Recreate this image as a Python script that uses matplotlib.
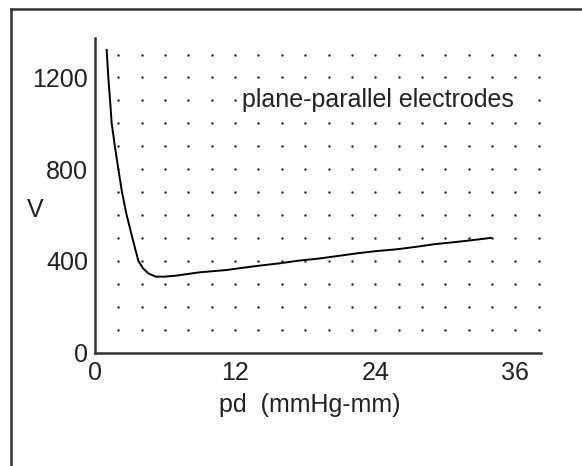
import matplotlib
matplotlib.use("Agg")
import matplotlib.pyplot as plt
from matplotlib.lines import Line2D
import numpy as np

# Paschen curve
pd_vals = [1.0, 1.14, 1.29, 1.43, 1.7, 2.0, 2.31, 2.71, 3.2, 3.71, 4.1, 4.57,
           5.2, 6.0, 6.9, 8.0, 9.0, 11.3, 12.7, 14.1, 15.8, 17.5, 19.2, 20.8,
           22.5, 24.0, 25.8, 27.5, 29.0, 30.7, 32.3, 33.9]
volts = [1320, 1200, 1100, 1000, 900, 800, 700, 600, 500, 400, 368, 345,
         331, 331, 335, 343, 350, 360, 370, 379, 389, 401, 410, 421,
         433, 442, 450, 461, 472, 481, 490, 500]

x_ticks = [0, 12, 24, 36]
y_ticks = [0, 400, 800, 1200]
grid_x = np.arange(2, 39, 2)
grid_y = np.arange(100, 1301, 100)

plt.rcParams["font.family"] = ["Liberation Sans", "DejaVu Sans"]

W, H = 582, 466
fig = plt.figure(figsize=(W / 100, H / 100), dpi=100)
ax = fig.add_axes([95 / W, 1 - 352.5 / H, (541 - 95) / W, (352.5 - 38) / H])

gx, gy = np.meshgrid(grid_x, grid_y)
ax.scatter(gx.ravel(), gy.ravel(), s=3, color="#222222", linewidths=0, zorder=1)
ax.plot(pd_vals, volts, color="black", lw=1.4, zorder=2)

ax.set_xlim(0, 38.2)
ax.set_ylim(0, 1372)
ax.set_xticks(x_ticks)
ax.set_yticks(y_ticks)
ax.tick_params(length=0, labelsize=18, colors="#222222", pad=6)
ax.tick_params(axis="y", pad=5)
for side in ("top", "right"):
    ax.spines[side].set_visible(False)
for side in ("left", "bottom"):
    ax.spines[side].set_linewidth(1.8)
    ax.spines[side].set_color("#333333")

ax.text(12.6, 1100, "plane-parallel electrodes", fontsize=18, color="#222222",
        ha="left", va="center", zorder=3,
        bbox=dict(boxstyle="square,pad=0.12", fc="white", ec="none"))
fig.text(35 / W, 1 - 210 / H, "V", fontsize=18, color="#222222", ha="center", va="center")
fig.text(310 / W, 1 - 405 / H, "pd  (mmHg-mm)", fontsize=18, color="#222222",
         ha="center", va="center")

# outer frame (left and top edges visible)
fig.add_artist(Line2D([11 / W, 11 / W], [0, 1 - 9 / H], color="#333333", lw=1.8))
fig.add_artist(Line2D([11 / W, 1], [1 - 9 / H, 1 - 9 / H], color="#333333", lw=1.8))

fig.savefig("out.png", dpi=100)
